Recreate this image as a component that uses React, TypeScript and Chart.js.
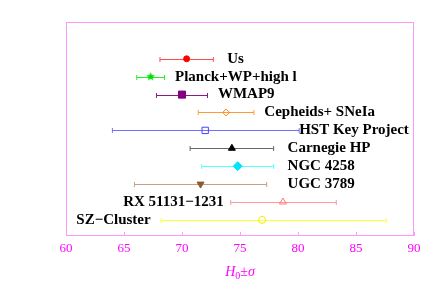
import React, { useEffect, useRef } from "react";
import { Chart, registerables } from "chart.js";
Chart.register(...registerables);

const names = [
  "Us",
  "Planck+WP+high l",
  "WMAP9",
  "Cepheids+ SNeIa",
  "HST Key Project",
  "Carnegie HP",
  "NGC 4258",
  "UGC 3789",
  "RX 51131\u22121231",
  "SZ\u2212Cluster",
];
const centers = [70.4, 67.3, 70.0, 73.8, 72.0, 74.3, 74.8, 71.6, 78.7, 76.9];
const lows = [68.1, 66.1, 67.8, 71.4, 64.0, 70.7, 71.7, 65.9, 74.2, 68.2];
const highs = [72.7, 68.5, 72.2, 76.2, 80.1, 77.9, 77.9, 77.3, 83.3, 87.6];
const labelAnchor = [73.9, 69.4, 73.1, 77.1, 80.1, 79.1, 79.1, 79.1, 73.6, 67.3];
const labelSide = ["right", "right", "right", "right", "right", "right", "right", "right", "left", "left"];
const xTicks = [60, 65, 70, 75, 80, 85, 90];

const lineColors = ["#ff4d4d", "#22ee22", "#8a1a8a", "#ff9933", "#7070ff", "#666666", "#55ffff", "#c8a080", "#ff9999", "#ffff33"];
const markColors = ["#ff0000", "#00dd00", "#800080", "#ff8c1a", "#4444ff", "#000000", "#00e5ff", "#8b5a2b", "#ff7777", "#eeee00"];
const markStyles = ["circle", "star", "rect", "rectRot", "rect", "triangle", "rectRot", "triangle", "triangle", "circle"];
const markFilled = [true, true, true, false, false, true, true, true, false, false];
const markRadius = [3, 4, 5, 3.5, 4.5, 4, 4.5, 4, 4, 3.5];
const markRotation = [0, 0, 0, 0, 0, 0, 0, 180, 0, 0];

const SERIF = "'Liberation Serif', 'Times New Roman', serif";

function makeStar(color: string, r: number): HTMLCanvasElement {
  const size = Math.ceil(r * 2 + 2);
  const c = document.createElement("canvas");
  c.width = size;
  c.height = size;
  const g = c.getContext("2d")!;
  const cx = size / 2, cy = size / 2;
  g.beginPath();
  for (let k = 0; k < 10; k++) {
    const rr = k % 2 === 0 ? r : r * 0.45;
    const ang = -Math.PI / 2 + (k * Math.PI) / 5;
    const px = cx + rr * Math.cos(ang);
    const py = cy + rr * Math.sin(ang);
    if (k === 0) g.moveTo(px, py);
    else g.lineTo(px, py);
  }
  g.closePath();
  g.fillStyle = color;
  g.fill();
  return c;
}

export default function App() {
  const ref = useRef<HTMLCanvasElement | null>(null);
  useEffect(() => {
    const canvas = ref.current;
    if (!canvas) return;
    const decor = {
      id: "decor",
      beforeDatasetsDraw(chart: any) {
        const { ctx, chartArea: a, scales } = chart;
        const xs = scales.x, ys = scales.y;
        ctx.save();
        ctx.strokeStyle = "#ff99ff";
        ctx.lineWidth = 1;
        ctx.strokeRect(Math.round(a.left) + 0.5, Math.round(a.top) - 0.5, Math.round(a.right - a.left) - 1, Math.round(a.bottom - a.top));
        ctx.beginPath();
        xTicks.forEach((t) => {
          const px = Math.round(xs.getPixelForValue(t)) + 0.5;
          ctx.moveTo(px, a.bottom);
          ctx.lineTo(px, a.bottom - 4);
        });
        ctx.stroke();
        names.forEach((_, i) => {
          const y = Math.round(ys.getPixelForValue(i)) + 0.5;
          const x0 = xs.getPixelForValue(lows[i]);
          const x1 = xs.getPixelForValue(highs[i]);
          ctx.strokeStyle = lineColors[i];
          ctx.lineWidth = 1;
          ctx.beginPath();
          ctx.moveTo(x0, y);
          ctx.lineTo(x1, y);
          ctx.moveTo(x0, y - 2.5);
          ctx.lineTo(x0, y + 2.5);
          ctx.moveTo(x1, y - 2.5);
          ctx.lineTo(x1, y + 2.5);
          ctx.stroke();
        });
        ctx.restore();
      },
      afterDatasetsDraw(chart: any) {
        const { ctx, chartArea: a, scales } = chart;
        const xs = scales.x, ys = scales.y;
        ctx.save();
        ctx.fillStyle = "#000";
        ctx.font = `bold 15px ${SERIF}`;
        ctx.textBaseline = "middle";
        names.forEach((n, i) => {
          ctx.textAlign = labelSide[i] === "right" ? "left" : "right";
          ctx.fillText(n, xs.getPixelForValue(labelAnchor[i]), ys.getPixelForValue(i));
        });
        const cx = (a.left + a.right) / 2;
        const by = 276;
        ctx.fillStyle = "#ff00ff";
        ctx.textBaseline = "alphabetic";
        ctx.textAlign = "left";
        const fBig = `italic 14px ${SERIF}`;
        const fSub = `10px ${SERIF}`;
        const fPm = `14px ${SERIF}`;
        ctx.font = fBig; const wH = ctx.measureText("H").width;
        ctx.font = fSub; const w0 = ctx.measureText("0").width;
        ctx.font = fPm; const wPm = ctx.measureText("\u00b1").width;
        ctx.font = fBig; const wS = ctx.measureText("\u03c3").width;
        let x = cx - (wH + w0 + wPm + wS) / 2;
        ctx.font = fBig; ctx.fillText("H", x, by); x += wH;
        ctx.font = fSub; ctx.fillText("0", x, by + 3); x += w0;
        ctx.font = fPm; ctx.fillText("\u00b1", x, by); x += wPm;
        ctx.font = fBig; ctx.fillText("\u03c3", x, by);
        ctx.restore();
      },
    };
    const chart = new Chart(canvas, {
      type: "scatter",
      data: {
        datasets: names.map((n, i) => ({
          label: n,
          data: [{ x: centers[i], y: i }],
          pointStyle: (markStyles[i] === "star" ? makeStar(markColors[i], markRadius[i] + 0.5) : markStyles[i]) as any,
          pointRadius: markRadius[i],
          pointRotation: markRotation[i],
          backgroundColor: markFilled[i] ? markColors[i] : "rgba(0,0,0,0)",
          borderColor: markColors[i],
          borderWidth: 1,
        })),
      },
      options: {
        responsive: false,
        animation: false,
        events: [],
        layout: { padding: { left: 66, right: 22, top: 23, bottom: 0 } },
        plugins: { legend: { display: false }, tooltip: { enabled: false } },
        scales: {
          x: {
            type: "linear",
            min: 60,
            max: 90,
            afterBuildTicks: (s: any) => {
              s.ticks = xTicks.map((v) => ({ value: v }));
            },
            afterFit: (s: any) => {
              s.height = 57;
            },
            grid: { display: false, drawTicks: false },
            border: { display: false },
            ticks: {
              color: "#ff00ff",
              font: { family: SERIF, size: 13 },
              padding: 5,
              maxRotation: 0,
            },
          },
          y: {
            type: "linear",
            reverse: true,
            min: -2,
            max: 9.9,
            display: false,
          },
        },
      },
      plugins: [decor],
    });
    return () => chart.destroy();
  }, []);
  return (
    <div style={{ position: "absolute", left: 0, top: 0, width: 436, height: 293, background: "#fff" }}>
      <canvas ref={ref} width={436} height={293} />
    </div>
  );
}
